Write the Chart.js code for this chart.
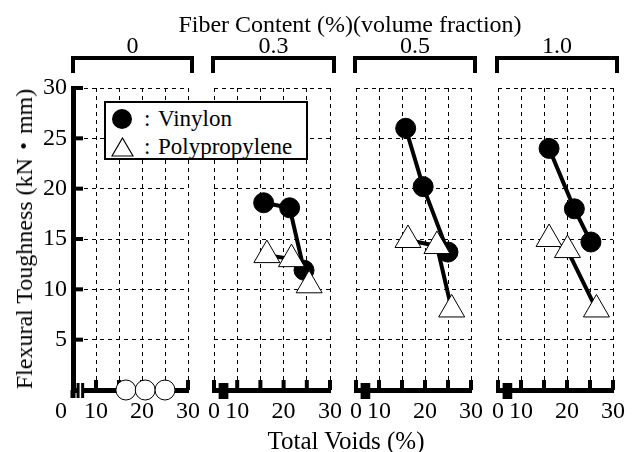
<!DOCTYPE html>
<html>
<head>
<meta charset="utf-8">
<script src="https://cdn.jsdelivr.net/npm/chart.js@4.4.0/dist/chart.umd.min.js"></script>
<style>
  body { margin: 0; background: #fff; }
  #wrap { position: relative; width: 641px; height: 452px; overflow: hidden;
          font-family: "Liberation Serif", "Times New Roman", Tinos, "DejaVu Serif", serif; color: #000; }
  #wrap canvas { position: absolute; top: 0; }
  .txt { position: absolute; white-space: nowrap; line-height: 1; transform: translate(-50%, -50%); }
  .cjk { font-family: "Noto Sans CJK JP", sans-serif; }
  .bracket { position: absolute; border: 4px solid #000; border-bottom: none; box-sizing: border-box; }
  #legend { position: absolute; left: 104px; top: 101px; width: 204px; height: 59px; box-sizing: border-box;
            border: 2px solid #000; background: #fff; z-index: 10; }
  #legend .row { position: absolute; left: 0; height: 26px; font-size: 23px; line-height: 26px; }
  #legend .mark { position: absolute; }
  #legend .colon { position: absolute; left: 38px; }
  #legend .name { position: absolute; left: 52px; }
</style>
</head>
<body>
<div id="wrap">
  <canvas id="p0"></canvas>
  <canvas id="p1"></canvas>
  <canvas id="p2"></canvas>
  <canvas id="p3"></canvas>
  <div id="legend">
    <div class="row" style="top:3px">
      <div class="mark" style="left:6px;top:3px;width:20px;height:20px;border-radius:50%;background:#000"></div>
      <span class="colon">:</span><span class="name">Vinylon</span>
    </div>
    <div class="row" style="top:31px">
      <svg class="mark" style="left:5px;top:3px" width="23" height="20"><polygon points="11.5,1 22,19 1,19" fill="#fff" stroke="#000" stroke-width="1.2"/></svg>
      <span class="colon">:</span><span class="name">Polypropylene</span>
    </div>
  </div>
</div>
<script>
// ---- data ----
const fiberContents = ['0', '0.3', '0.5', '1.0'];     // volume fraction (%)
const voidTicks = [5, 10, 15, 20, 25, 30];
const voidTickLabels = ['0', '10', '', '20', '', '30'];
const toughTicks = [0, 5, 10, 15, 20, 25, 30];
const toughTickLabels = ['', '5', '10', '15', '20', '25', '30'];

// plain (0 %)
const plainVoids = [16.5, 20.7, 25.0];
const plainTough = [0, 0, 0];

// 0.3 %
const vinylonVoids03 = [15.7, 21.3, 24.4];
const vinylonTough03 = [18.6, 18.1, 11.9];
const ppVoids03 = [16.4, 21.7, 25.5];
const ppTough03 = [13.4, 13.0, 10.4];

// 0.5 %
const vinylonVoids05 = [15.8, 19.6, 25.0];
const vinylonTough05 = [26.0, 20.2, 13.7];
const ppVoids05 = [16.3, 22.6, 25.8];
const ppTough05 = [14.9, 14.3, 8.0];

// 1.0 %
const vinylonVoids10 = [16.1, 21.6, 25.2];
const vinylonTough10 = [24.0, 18.0, 14.7];
const ppVoids10 = [16.1, 20.1, 26.4];
const ppTough10 = [15.0, 13.9, 8.0];

// ---- layout (pixel extents of each panel's plot area) ----
const areas = [[73, 192], [213, 334], [355, 475], [497, 617]];
const plotTop = 88, plotBottom = 390, canvasH = 452;
const serif = '"Liberation Serif", "Times New Roman", Tinos, "DejaVu Serif", serif';
const tickFont = { family: serif, size: 24 };

const zip = (xs, ys) => xs.map((x, i) => ({ x: x, y: ys[i] }));

const vinylonStyle = {
    label: 'Vinylon', showLine: true, borderColor: '#000', borderWidth: 4,
    pointStyle: 'circle', pointRadius: 10, pointBackgroundColor: '#000',
    pointBorderColor: '#000', pointBorderWidth: 1, clip: false, order: 2
};
const ppStyle = {
    label: 'Polypropylene', showLine: true, borderColor: '#000', borderWidth: 4,
    pointStyle: 'triangle', pointRadius: 15, pointBackgroundColor: '#fff',
    pointBorderColor: '#000', pointBorderWidth: 1, clip: false, order: 1
};

const panelData = [
    [{ label: 'Plain', data: zip(plainVoids, plainTough), showLine: false, pointStyle: 'circle',
       pointRadius: 10, pointBackgroundColor: '#fff', pointBorderColor: '#000', pointBorderWidth: 1, clip: false }],
    [Object.assign({ data: zip(vinylonVoids03, vinylonTough03) }, vinylonStyle),
     Object.assign({ data: zip(ppVoids03, ppTough03) }, ppStyle)],
    [Object.assign({ data: zip(vinylonVoids05, vinylonTough05) }, vinylonStyle),
     Object.assign({ data: zip(ppVoids05, ppTough05) }, ppStyle)],
    [Object.assign({ data: zip(vinylonVoids10, vinylonTough10) }, vinylonStyle),
     Object.assign({ data: zip(ppVoids10, ppTough10) }, ppStyle)]
];

// inward tick marks and the axis-break symbols
const axisDecor = {
    id: 'axisDecor',
    beforeDatasetsDraw(chart, args, opts) {
        const { ctx, chartArea: { left, bottom }, scales: { x, y } } = chart;
        ctx.save();
        ctx.fillStyle = '#000';
        x.ticks.forEach(t => {
            if (opts.first && t.value === x.min) return;
            const px = x.getPixelForValue(t.value);
            ctx.fillRect(px - 2, bottom - 10, 4, 10);
        });
        if (opts.first) {
            y.ticks.forEach(t => {
                if (t.value === y.min) return;
                const py = y.getPixelForValue(t.value);
                ctx.fillRect(left, py - 2, 10, 4);
            });
            ctx.fillRect(left - 2.5, bottom, 5, 8);
            const b1 = x.getPixelForValue(6.1), b2 = x.getPixelForValue(7.1);
            ctx.fillStyle = '#fff';
            ctx.fillRect(b1, bottom - 3, b2 - b1, 6);
            ctx.fillStyle = '#000';
            ctx.fillRect(b1 - 1.5, bottom - 7, 3, 15);
            ctx.fillRect(b2 - 1.5, bottom - 7, 3, 15);
        } else {
            const b1 = x.getPixelForValue(6.0), b2 = x.getPixelForValue(8.1);
            ctx.fillRect(b1, bottom - 7, b2 - b1, 16);
        }
        ctx.restore();
    }
};

const wrap = document.getElementById('wrap');
function addText(html, cx, cy, size, extra) {
    const d = document.createElement('div');
    d.className = 'txt';
    d.innerHTML = html;
    d.style.left = cx + 'px';
    d.style.top = cy + 'px';
    d.style.fontSize = size + 'px';
    if (extra) d.style.transform = extra;
    wrap.appendChild(d);
}

areas.forEach(([a, b], i) => {
    const first = i === 0;
    const padL = first ? 0 : 15;
    const left = first ? 0 : a - padL;
    const canvas = document.getElementById('p' + i);
    canvas.width = b - left + 15;
    canvas.height = canvasH;
    canvas.style.left = left + 'px';

    new Chart(canvas.getContext('2d'), {
        type: 'scatter',
        data: { datasets: panelData[i] },
        plugins: [axisDecor],
        options: {
            responsive: false,
            animation: false,
            events: [],
            layout: { padding: { left: padL, right: 15, top: plotTop, bottom: 0 } },
            plugins: {
                legend: { display: false },
                tooltip: { enabled: false },
                axisDecor: { first: first }
            },
            scales: {
                x: {
                    type: 'linear', min: 5, max: 30,
                    afterBuildTicks: s => { s.ticks = voidTicks.map(v => ({ value: v })); },
                    afterFit: s => { s.height = canvasH - plotBottom; },
                    ticks: {
                        autoSkip: false, maxRotation: 0, color: '#000', font: tickFont, padding: 7,
                        callback: (v) => {
                            const lab = voidTickLabels[voidTicks.indexOf(v)];
                            return (first && v === 5) ? lab + '\u2003' : lab;
                        }
                    },
                    grid: { color: '#000', lineWidth: 1, drawTicks: false },
                    border: { display: true, color: '#000', width: 5, dash: [4, 4] }
                },
                y: {
                    type: 'linear', min: 0, max: 30,
                    afterBuildTicks: s => { s.ticks = toughTicks.map(v => ({ value: v })); },
                    afterFit: s => { s.width = first ? a : 0; },
                    ticks: {
                        display: first, color: '#000', font: tickFont, padding: 6,
                        callback: (v) => toughTickLabels[toughTicks.indexOf(v)]
                    },
                    grid: { color: '#000', lineWidth: 1, drawTicks: false },
                    border: { display: first, color: '#000', width: 5, dash: [4, 4] }
                }
            }
        }
    });

    // bracket and fiber-content label above each panel
    const br = document.createElement('div');
    br.className = 'bracket';
    br.style.left = (a - 2) + 'px';
    br.style.width = (b - a + 4) + 'px';
    br.style.top = '56px';
    br.style.height = '17px';
    wrap.appendChild(br);
    addText(fiberContents[i], (a + b) / 2, 45, 24);
});

addText('Fiber Content (%)(volume fraction)', 350, 24, 24);
addText('Total Voids (%)', 346, 440, 25);
addText('Flexural Toughness (kN<span class="cjk">\u30FB</span>mm)', 23, 239, 24, 'translate(-50%, -50%) rotate(-90deg)');
</script>
</body>
</html>
